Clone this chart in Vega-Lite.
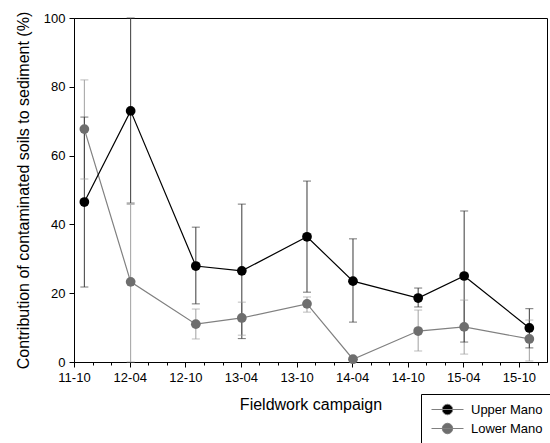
{
  "$schema": "https://vega.github.io/schema/vega-lite/v6.json",
  "autosize": "none",
  "width": 473,
  "height": 344,
  "padding": {"left": 74, "top": 18, "right": 3, "bottom": 81},
  "background": "white",
  "config": {
    "font": "Liberation Sans",
    "view": {"stroke": "#000000", "strokeWidth": 1},
    "axis": {
      "grid": false,
      "domainColor": "#000000",
      "tickColor": "#000000",
      "labelColor": "#000000",
      "titleColor": "#000000",
      "labelFont": "Liberation Sans",
      "titleFont": "Liberation Sans",
      "labelFontSize": 13,
      "titleFontSize": 16,
      "titleFontWeight": "normal"
    }
  },
  "data": {
    "values": [
      {"series": "Lower Mano", "date": "2011-11-04", "value": 67.7, "lo": 53.2, "hi": 82.0},
      {"series": "Lower Mano", "date": "2012-04-04", "value": 23.3, "lo": 0, "hi": 45.8},
      {"series": "Lower Mano", "date": "2012-11-04", "value": 11.0, "lo": 6.7, "hi": 15.4},
      {"series": "Lower Mano", "date": "2013-04-04", "value": 12.8, "lo": 7.8, "hi": 17.4},
      {"series": "Lower Mano", "date": "2013-11-04", "value": 16.9, "lo": 14.5, "hi": 18.9},
      {"series": "Lower Mano", "date": "2014-04-04", "value": 0.8, "lo": 0.3, "hi": 1.3},
      {"series": "Lower Mano", "date": "2014-11-04", "value": 9.0, "lo": 3.2, "hi": 15.1},
      {"series": "Lower Mano", "date": "2015-04-04", "value": 10.2, "lo": 2.3, "hi": 18.0},
      {"series": "Lower Mano", "date": "2015-11-04", "value": 6.7, "lo": 0.3, "hi": 12.2},
      {"series": "Upper Mano", "date": "2011-11-04", "value": 46.5, "lo": 21.8, "hi": 71.2},
      {"series": "Upper Mano", "date": "2012-04-04", "value": 73.0, "lo": 46.2, "hi": 100},
      {"series": "Upper Mano", "date": "2012-11-04", "value": 27.9, "lo": 16.9, "hi": 39.2},
      {"series": "Upper Mano", "date": "2013-04-04", "value": 26.5, "lo": 6.8, "hi": 45.9},
      {"series": "Upper Mano", "date": "2013-11-04", "value": 36.4, "lo": 20.3, "hi": 52.6},
      {"series": "Upper Mano", "date": "2014-04-04", "value": 23.5, "lo": 11.6, "hi": 35.8},
      {"series": "Upper Mano", "date": "2014-11-04", "value": 18.6, "lo": 16.0, "hi": 21.5},
      {"series": "Upper Mano", "date": "2015-04-04", "value": 25.0, "lo": 5.8, "hi": 43.9},
      {"series": "Upper Mano", "date": "2015-11-04", "value": 9.9, "lo": 4.1, "hi": 15.5}
    ]
  },
  "encoding": {
    "x": {
      "field": "date",
      "type": "temporal",
      "scale": {"type": "utc", "domain": [{"year": 2011, "month": 10, "date": 1, "utc": true}, {"year": 2016, "month": 1, "date": 1, "utc": true}]},
      "axis": {
        "title": "Fieldwork campaign",
        "titlePadding": 12,
        "values": [
          {"year": 2011, "month": 10, "date": 1, "utc": true},
          {"year": 2011, "month": 12, "date": 1, "utc": true},
          {"year": 2012, "month": 2, "date": 1, "utc": true},
          {"year": 2012, "month": 4, "date": 1, "utc": true},
          {"year": 2012, "month": 6, "date": 1, "utc": true},
          {"year": 2012, "month": 8, "date": 1, "utc": true},
          {"year": 2012, "month": 10, "date": 1, "utc": true},
          {"year": 2012, "month": 12, "date": 1, "utc": true},
          {"year": 2013, "month": 2, "date": 1, "utc": true},
          {"year": 2013, "month": 4, "date": 1, "utc": true},
          {"year": 2013, "month": 6, "date": 1, "utc": true},
          {"year": 2013, "month": 8, "date": 1, "utc": true},
          {"year": 2013, "month": 10, "date": 1, "utc": true},
          {"year": 2013, "month": 12, "date": 1, "utc": true},
          {"year": 2014, "month": 2, "date": 1, "utc": true},
          {"year": 2014, "month": 4, "date": 1, "utc": true},
          {"year": 2014, "month": 6, "date": 1, "utc": true},
          {"year": 2014, "month": 8, "date": 1, "utc": true},
          {"year": 2014, "month": 10, "date": 1, "utc": true},
          {"year": 2014, "month": 12, "date": 1, "utc": true},
          {"year": 2015, "month": 2, "date": 1, "utc": true},
          {"year": 2015, "month": 4, "date": 1, "utc": true},
          {"year": 2015, "month": 6, "date": 1, "utc": true},
          {"year": 2015, "month": 8, "date": 1, "utc": true},
          {"year": 2015, "month": 10, "date": 1, "utc": true},
          {"year": 2015, "month": 12, "date": 1, "utc": true}
        ],
        "labelExpr": "(utcmonth(datum.value) == 3 || utcmonth(datum.value) == 9) ? utcFormat(datum.value, '%y-%m') : ''",
        "labelFlush": false,
        "labelOverlap": false,
        "labelPadding": 4,
        "tickSize": {"condition": {"test": "utcmonth(datum.value) == 3 || utcmonth(datum.value) == 9", "value": 5}, "value": 3}
      }
    },
    "y": {
      "type": "quantitative",
      "scale": {"domain": [0, 100], "nice": false},
      "axis": {
        "title": "Contribution of contaminated soils to sediment (%)",
        "values": [0, 20, 40, 60, 80, 100],
        "tickSize": 5,
        "labelPadding": 4,
        "titlePadding": 12
      }
    }
  },
  "layer": [
    {
      "mark": {"type": "rule", "strokeWidth": 1},
      "encoding": {
        "y": {"field": "lo", "type": "quantitative"},
        "y2": {"field": "hi"},
        "color": {"field": "series", "type": "nominal", "scale": {"domain": ["Upper Mano", "Lower Mano"], "range": ["#3a3a3a", "#a0a0a0"]}, "legend": null}
      }
    },
    {
      "mark": {"type": "tick", "orient": "horizontal", "size": 8, "thickness": 1},
      "encoding": {
        "y": {"field": "lo", "type": "quantitative"},
        "color": {"field": "series", "type": "nominal", "scale": {"domain": ["Upper Mano", "Lower Mano"], "range": ["#3a3a3a", "#a0a0a0"]}, "legend": null}
      }
    },
    {
      "mark": {"type": "tick", "orient": "horizontal", "size": 8, "thickness": 1},
      "encoding": {
        "y": {"field": "hi", "type": "quantitative"},
        "color": {"field": "series", "type": "nominal", "scale": {"domain": ["Upper Mano", "Lower Mano"], "range": ["#3a3a3a", "#a0a0a0"]}, "legend": null}
      }
    },
    {
      "mark": {"type": "line", "strokeWidth": 1.2},
      "encoding": {
        "y": {"field": "value", "type": "quantitative"},
        "color": {"field": "series", "type": "nominal", "scale": {"domain": ["Upper Mano", "Lower Mano"], "range": ["#000000", "#808080"]}, "legend": null}
      }
    },
    {
      "mark": {"type": "point", "filled": true, "opacity": 1, "size": 95},
      "encoding": {
        "y": {"field": "value", "type": "quantitative"},
        "color": {
          "field": "series",
          "type": "nominal",
          "scale": {"domain": ["Upper Mano", "Lower Mano"], "range": ["#000000", "#6e6e6e"]},
          "legend": {
            "title": null,
            "orient": "none",
            "legendX": 347,
            "legendY": 376,
            "strokeColor": "#000000",
            "fillColor": "#ffffff",
            "padding": 9,
            "symbolType": "M-3.2,0H3.2M1.05,0A1.05,1.05,0,1,1,-1.05,0A1.05,1.05,0,1,1,1.05,0Z",
            "symbolSize": 100,
            "symbolOffset": 11,
            "symbolStrokeWidth": 1,
            "symbolStrokeColor": "#808080",
            "labelFontSize": 13,
            "labelFont": "Liberation Sans",
            "labelColor": "#000000",
            "labelOffset": 17,
            "rowPadding": 4,
            "encode": {
              "symbols": {
                "update": {
                  "fill": {"signal": "datum.value == 'Upper Mano' ? '#000000' : '#6e6e6e'"},
                  "stroke": {"signal": "datum.value == 'Upper Mano' ? '#000000' : '#909090'"},
                  "strokeOpacity": {"value": 1},
                  "strokeWidth": {"value": 1.2},
                  "opacity": {"value": 1}
                }
              }
            }
          }
        }
      }
    }
  ],
  "resolve": {"scale": {"color": "independent"}}
}
